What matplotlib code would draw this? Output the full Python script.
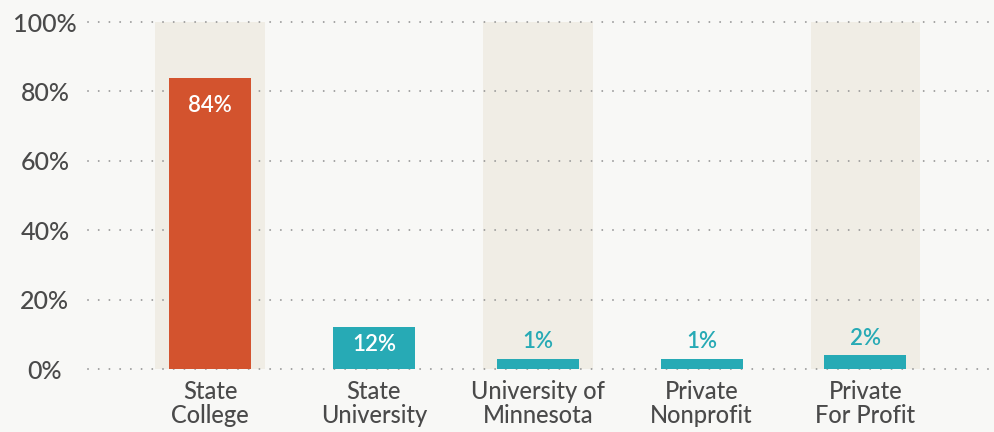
import numpy as np
import matplotlib
matplotlib.use("Agg")
import matplotlib.pyplot as plt

categories = ["State\nCollege", "State\nUniversity", "University of\nMinnesota",
              "Private\nNonprofit", "Private\nFor Profit"]
values = [84, 12, 1, 1, 2]
yticks = [0, 20, 40, 60, 80, 100]
ytick_labels = ["0%", "20%", "40%", "60%", "80%", "100%"]

BG = "#F8F8F6"
BAND = "#F0EDE5"
ORANGE = "#D3532E"
TEAL = "#27AAB5"
TEXT = "#4A4A4A"

plt.rcParams["font.family"] = ["Lato", "DejaVu Sans"]

fig = plt.figure(figsize=(9.94, 4.32), dpi=100, facecolor=BG)
ax = fig.add_axes([0.0885, 0.1458, 1 - 0.0885, 0.949 - 0.1458])
ax.set_facecolor(BG)

x = np.arange(len(values))
ax.set_xlim(-0.745, 4.785)
ax.set_ylim(0, 100)

# alternating background bands
for i in x[::2]:
    ax.bar(i, 100, width=0.67, color=BAND, zorder=0, linewidth=0)

# dotted gridlines
for t in yticks:
    ax.axhline(t, color="#9A9A9A", lw=1.4, ls=(0, (0.01, 5.5)),
               dash_capstyle="round", zorder=1, clip_on=False)

# bars (small values get a minimum visible stub)
vals = np.array(values, dtype=float)
drawn = np.where(vals < 5, vals + 2, vals)
colors = [ORANGE] + [TEAL] * (len(values) - 1)
ax.bar(x, drawn, width=0.5, color=colors, zorder=2, linewidth=0)

px_per_unit = (369 - 22) / 100.0
for xi, v, h in zip(x, values, drawn):
    if v >= 10:
        hp = h * px_per_unit
        off = -min(28, hp * 0.4) * 0.72
        ax.annotate(f"{v}%", (xi, h), xytext=(0, off), textcoords="offset points",
                    ha="center", va="center", color="white", fontsize=16,
                    fontweight="semibold", zorder=3)
    else:
        ax.annotate(f"{v}%", (xi, h), xytext=(0, 17 * 0.72), textcoords="offset points",
                    ha="center", va="center", color=TEAL, fontsize=16,
                    fontweight="semibold", zorder=3)

ax.set_yticks(yticks)
ax.set_yticklabels(ytick_labels, fontsize=18, color=TEXT, fontweight="medium",
                   ha="center")
ax.set_xticks(x)
ax.set_xticklabels(categories, fontsize=17, color=TEXT, linespacing=1.05,
                   fontweight="medium")
ax.tick_params(axis="y", length=0, pad=31)
ax.tick_params(axis="x", length=0, pad=8)
for s in ax.spines.values():
    s.set_visible(False)

fig.savefig("out.png", dpi=100, facecolor=BG)
